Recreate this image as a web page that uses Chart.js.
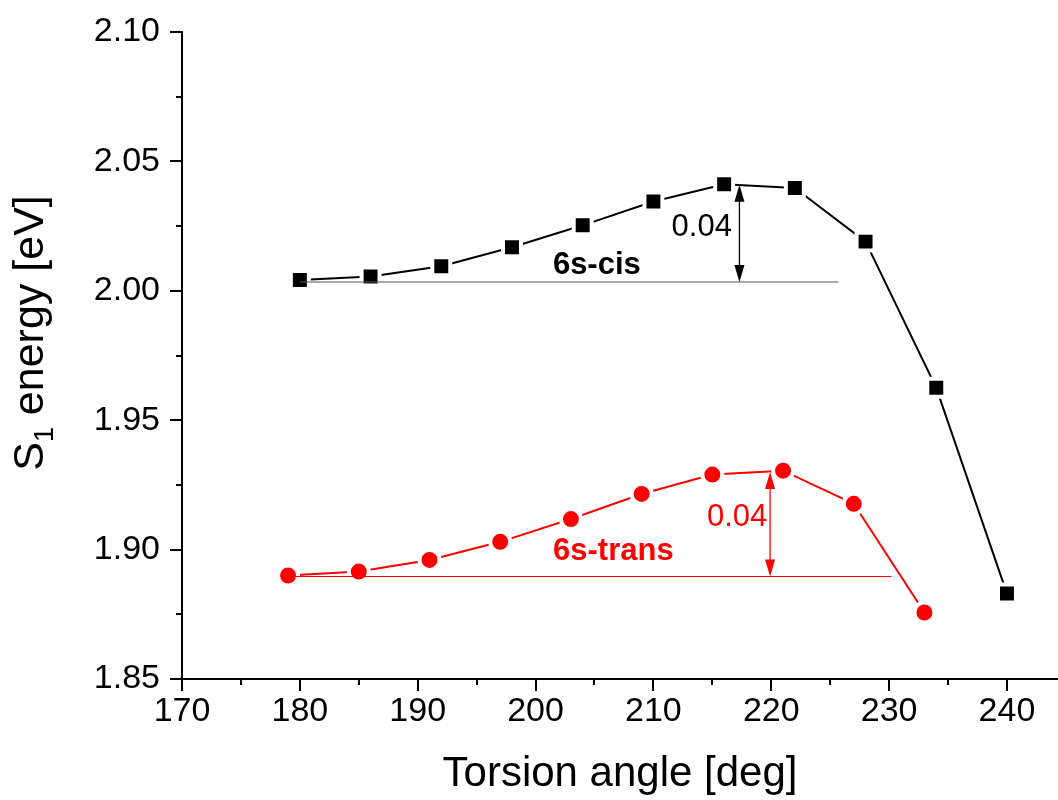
<!DOCTYPE html>
<html><head><meta charset="utf-8">
<script src="https://cdn.jsdelivr.net/npm/chart.js@4/dist/chart.umd.min.js"></script>
<style>html,body{margin:0;padding:0;background:#fff}</style>
</head><body>
<canvas id="c" width="1058" height="800"></canvas>
<script>
// ---- data ----
const cisAngles   = [180, 186, 192, 198, 204, 210, 216, 222, 228, 234, 240];
const cisEnergy   = [2.0042, 2.0055, 2.0095, 2.0168, 2.0253, 2.0345, 2.0412, 2.0397, 2.0190, 1.9625, 1.8830];
const transAngles = [179, 185, 191, 197, 203, 209, 215, 221, 227, 233];
const transEnergy = [1.8900, 1.8915, 1.8960, 1.9030, 1.9118, 1.9215, 1.9290, 1.9305, 1.9177, 1.8757];

const cisBaseAngles   = [180, 225.7];
const cisBaseEnergy   = [2.0034, 2.0034];
const transBaseAngles = [179.2, 230.2];
const transBaseEnergy = [1.8896, 1.8896];

const cisArrow   = {x: 217.3, from: 2.0034, to: 2.0410};
const transArrow = {x: 219.9, from: 1.8896, to: 1.9300};

const xMajorTicks = [170, 180, 190, 200, 210, 220, 230, 240];
const xMinorTicks = [175, 185, 195, 205, 215, 225, 235];
const yMajorTicks = [1.85, 1.90, 1.95, 2.00, 2.05, 2.10];
const yMinorTicks = [1.875, 1.925, 1.975, 2.025, 2.075];

const xTitle = 'Torsion angle [deg]';
const yTitleParts = ['S', '1', ' energy [eV]'];
const annotations = [
  {text: '0.04',     x: 214.1, y: 2.0243, color: '#000', bold: false},
  {text: '6s-cis',   x: 205.2, y: 2.0097, color: '#000', bold: true},
  {text: '0.04',     x: 217.1, y: 1.9124, color: '#ff0000', bold: false},
  {text: '6s-trans', x: 206.6, y: 1.8993, color: '#ff0000', bold: true}
];

const FONT = "'Liberation Sans', Arial, sans-serif";
const RED = '#ff0000';

function xy(xs, ys) { return xs.map((x, i) => ({x: x, y: ys[i]})); }

function zeroPad(s) { s.paddingTop = 0; s.paddingBottom = 0; s.paddingLeft = 0; s.paddingRight = 0; }

function drawArrowHead(ctx, x, y, dir) { // dir: -1 up, +1 down
  const len = 17, hw = 5;
  ctx.beginPath();
  ctx.moveTo(x, y);
  ctx.lineTo(x - hw, y - dir * len);
  ctx.lineTo(x + hw, y - dir * len);
  ctx.closePath();
  ctx.fill();
}

const extras = {
  id: 'extras',
  afterDraw(chart) {
    const ctx = chart.ctx;
    const xs = chart.scales.x, ys = chart.scales.y;
    const area = chart.chartArea;
    ctx.save();
    ctx.strokeStyle = '#000';
    ctx.lineWidth = 2;
    // x ticks
    const yb = area.bottom;
    xMajorTicks.forEach(v => { const p = Math.round(xs.getPixelForValue(v)); ctx.beginPath(); ctx.moveTo(p, yb); ctx.lineTo(p, yb + 12); ctx.stroke(); });
    xMinorTicks.forEach(v => { const p = Math.round(xs.getPixelForValue(v)); ctx.beginPath(); ctx.moveTo(p, yb); ctx.lineTo(p, yb + 6); ctx.stroke(); });
    // y ticks
    const xl = area.left;
    yMajorTicks.forEach(v => { const p = Math.round(ys.getPixelForValue(v)); ctx.beginPath(); ctx.moveTo(xl, p); ctx.lineTo(xl - 12, p); ctx.stroke(); });
    yMinorTicks.forEach(v => { const p = Math.round(ys.getPixelForValue(v)); ctx.beginPath(); ctx.moveTo(xl, p); ctx.lineTo(xl - 6, p); ctx.stroke(); });

    // arrows
    [[cisArrow, '#000'], [transArrow, RED]].forEach(([a, col]) => {
      const px = xs.getPixelForValue(a.x);
      const y1 = ys.getPixelForValue(a.from), y2 = ys.getPixelForValue(a.to);
      ctx.strokeStyle = col; ctx.fillStyle = col; ctx.lineWidth = 1.3;
      ctx.beginPath(); ctx.moveTo(px, y1 - 10); ctx.lineTo(px, y2 + 10); ctx.stroke();
      drawArrowHead(ctx, px, y2, -1);
      drawArrowHead(ctx, px, y1, 1);
    });

    // annotations
    ctx.textAlign = 'center';
    ctx.textBaseline = 'middle';
    annotations.forEach(a => {
      ctx.fillStyle = a.color;
      ctx.font = (a.bold ? 'bold 31px ' : '31px ') + FONT;
      ctx.fillText(a.text, xs.getPixelForValue(a.x), ys.getPixelForValue(a.y));
    });

    // y title with subscript
    ctx.fillStyle = '#000';
    ctx.translate(0, 333);
    ctx.rotate(-Math.PI / 2);
    ctx.textAlign = 'left';
    ctx.textBaseline = 'alphabetic';
    const big = '43px ' + FONT, small = '27px ' + FONT;
    ctx.font = big; const w0 = ctx.measureText(yTitleParts[0]).width;
    const w2 = ctx.measureText(yTitleParts[2]).width;
    ctx.font = small; const w1 = ctx.measureText(yTitleParts[1]).width;
    let u = -(w0 + w1 + w2) / 2;
    const base = 43;
    ctx.font = big; ctx.fillText(yTitleParts[0], u, base); u += w0;
    ctx.font = small; ctx.fillText(yTitleParts[1], u, base + 10); u += w1;
    ctx.font = big; ctx.fillText(yTitleParts[2], u, base);
    ctx.restore();
  }
};

new Chart(document.getElementById('c'), {
  type: 'scatter',
  data: {
    datasets: [
      {data: xy(cisAngles, cisEnergy), showLine: true, borderColor: '#000', borderWidth: 2,
       pointStyle: 'rect', pointRadius: 12.7, pointBackgroundColor: '#000', pointBorderColor: '#fff', pointBorderWidth: 4, order: 2},
      {data: xy(transAngles, transEnergy), showLine: true, borderColor: RED, borderWidth: 2,
       pointStyle: 'circle', pointRadius: 10, pointBackgroundColor: RED, pointBorderColor: '#fff', pointBorderWidth: 4, order: 2},
      {data: xy(cisBaseAngles, cisBaseEnergy), showLine: true, borderColor: '#555', borderWidth: 1.2, pointRadius: 0, order: 1},
      {data: xy(transBaseAngles, transBaseEnergy), showLine: true, borderColor: RED, borderWidth: 1.2, pointRadius: 0, order: 1}
    ]
  },
  options: {
    responsive: false,
    animation: false,
    events: [],
    layout: {autoPadding: false, padding: {top: 32, right: 0, left: 0, bottom: 0}},
    plugins: {legend: {display: false}, tooltip: {enabled: false}},
    scales: {
      x: {
        type: 'linear', min: 170, max: 244.33,
        afterBuildTicks: s => { s.ticks = xMajorTicks.map(v => ({value: v})); },
        afterFit: s => { s.height = 121; zeroPad(s); },
        grid: {display: false, drawTicks: false},
        border: {display: true, color: '#000', width: 2},
        ticks: {color: '#000', font: {family: FONT, size: 34}, padding: 12, maxRotation: 0, callback: v => String(v)},
        title: {display: true, text: xTitle, color: '#000', font: {family: FONT, size: 42}, padding: {top: 0, bottom: 0}}
      },
      y: {
        type: 'linear', min: 1.85, max: 2.10,
        afterBuildTicks: s => { s.ticks = yMajorTicks.map(v => ({value: v})); },
        afterFit: s => { s.width = 182; zeroPad(s); },
        grid: {display: false, drawTicks: false},
        border: {display: true, color: '#000', width: 2},
        ticks: {color: '#000', font: {family: FONT, size: 34}, padding: 22, callback: v => v.toFixed(2)}
      }
    }
  },
  plugins: [extras]
});
</script>
</body></html>
